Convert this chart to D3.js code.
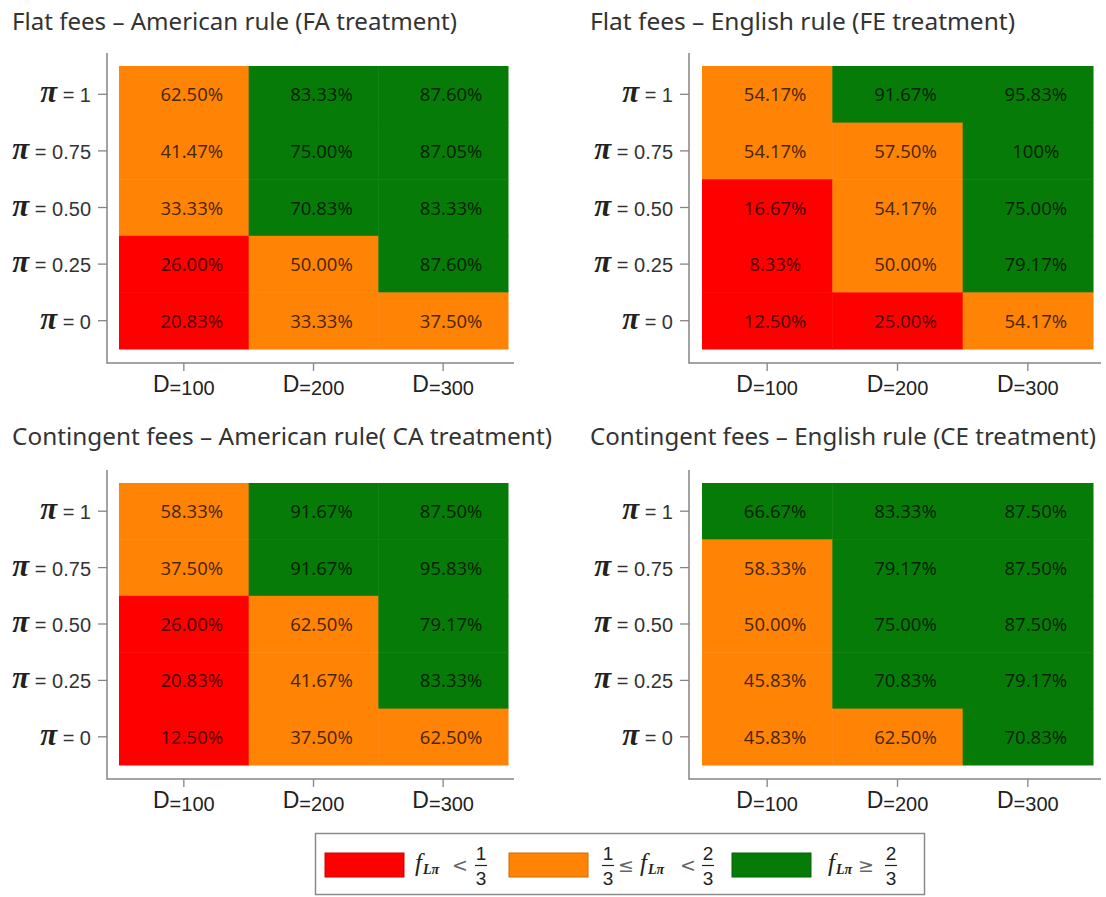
<!DOCTYPE html>
<html>
<head>
<meta charset="utf-8">
<script src="https://cdn.jsdelivr.net/npm/d3@7"></script>
<style>
  body { margin: 0; background: #fff; }
  svg { display: block; }
</style>
</head>
<body>
<div id="chart"></div>
<script>
// rows: pi = 1, 0.75, 0.50, 0.25, 0 ; columns: D = 100, 200, 300
const piLabels = ["1", "0.75", "0.50", "0.25", "0"];
const dLabels = ["100", "200", "300"];

const faValues = [
  [62.50, 83.33, 87.60],
  [41.47, 75.00, 87.05],
  [33.33, 70.83, 83.33],
  [26.00, 50.00, 87.60],
  [20.83, 33.33, 37.50]
];
const feValues = [
  [54.17, 91.67, 95.83],
  [54.17, 57.50, 100],
  [16.67, 54.17, 75.00],
  [8.33, 50.00, 79.17],
  [12.50, 25.00, 54.17]
];
const caValues = [
  [58.33, 91.67, 87.50],
  [37.50, 91.67, 95.83],
  [26.00, 62.50, 79.17],
  [20.83, 41.67, 83.33],
  [12.50, 37.50, 62.50]
];
const ceValues = [
  [66.67, 83.33, 87.50],
  [58.33, 79.17, 87.50],
  [50.00, 75.00, 87.50],
  [45.83, 70.83, 79.17],
  [45.83, 62.50, 70.83]
];

const titles = [
  "Flat fees \u2013 American rule (FA treatment)",
  "Flat fees \u2013 English rule (FE treatment)",
  "Contingent fees \u2013 American rule( CA treatment)",
  "Contingent fees \u2013 English rule (CE treatment)"
];

// share thresholds (1/3, 2/3) and their colours
const bandBreaks = [33.33, 66.67];
const bandColors = ["#fe0000", "#ff8406", "#077b07"];

const W = 1106, H = 897;

const svg = d3
  .select("#chart")
  .append("svg")
  .attr("width", W)
  .attr("height", H);

// panel geometry
const cols = [
  { titleX: 12, axisX: 107, x0: 119, x1: 508, axisEnd: 514 },
  { titleX: 590, axisX: 689, x0: 702, x1: 1093, axisEnd: 1101 }
];
const rows = [
  { titleY: 30, axisTop: 53, y0: 66, y1: 349, axisY: 363 },
  { titleY: 445, axisTop: 470, y0: 483, y1: 765, axisY: 779 }
];

const panels = [
  { title: titles[0], values: faValues, col: 0, row: 0, titleW: 445 },
  { title: titles[1], values: feValues, col: 1, row: 0, titleW: 425 },
  { title: titles[2], values: caValues, col: 0, row: 1, titleW: 540 },
  { title: titles[3], values: ceValues, col: 1, row: 1, titleW: 506 }
];

const color = d3.scaleThreshold().domain(bandBreaks).range(bandColors);
const fmt = (v) => (v === 100 ? "100%" : d3.format(".2f")(v) + "%");
const axisColor = "#858585";

panels.forEach((p) => {
  const c = cols[p.col];
  const r = rows[p.row];
  const g = svg.append("g");

  const x = d3.scaleBand().domain(dLabels).range([c.x0, c.x1]);
  const y = d3.scaleBand().domain(piLabels).range([r.y0, r.y1]);

  // title
  g.append("text")
    .attr("x", c.titleX)
    .attr("y", r.titleY)
    .attr("textLength", p.titleW)
    .attr("lengthAdjust", "spacingAndGlyphs")
    .style("font-family", "'Noto Sans', sans-serif")
    .style("font-size", "24px")
    .style("fill", "#333")
    .text(p.title);

  const cells = p.values.flatMap((rowVals, i) =>
    rowVals.map((v, j) => ({ pi: piLabels[i], d: dLabels[j], v }))
  );

  g.selectAll(".cell")
    .data(cells)
    .join("rect")
    .attr("class", "cell")
    .attr("x", (d) => x(d.d))
    .attr("y", (d) => y(d.pi))
    .attr("width", x.bandwidth() + 0.5)
    .attr("height", y.bandwidth() + 0.5)
    .attr("fill", (d) => color(d.v));

  g.selectAll(".val")
    .data(cells)
    .join("text")
    .attr("class", "val")
    .attr("x", (d) => x(d.d) + x.bandwidth() / 2 + 8)
    .attr("y", (d) => y(d.pi) + y.bandwidth() / 2 + 7)
    .attr("text-anchor", "middle")
    .style("font-family", "'Noto Sans', sans-serif")
    .style("font-size", "18.5px")
    .style("fill", "#000")
    .style("fill-opacity", 0.72)
    .text((d) => fmt(d.v));

  // axis lines
  g.append("path")
    .attr("d", `M${c.axisX},${r.axisTop}V${r.axisY}H${c.axisEnd}`)
    .attr("fill", "none")
    .attr("stroke", axisColor)
    .attr("stroke-width", 1.5);

  // y axis
  const ga = g
    .append("g")
    .attr("transform", `translate(${c.axisX},0)`)
    .call(d3.axisLeft(y).tickSize(9).tickPadding(7));
  ga.attr("font-family", null).attr("font-size", null);
  ga.select(".domain").remove();
  ga.selectAll(".tick line").attr("stroke", axisColor).attr("stroke-width", 1.3);
  ga.selectAll(".tick text").each(function (d) {
    const t = d3.select(this).text(null).attr("dy", null).attr("y", 8).attr("fill", "#222");
    t.append("tspan")
      .style("font-family", "'Liberation Serif', serif")
      .style("font-weight", "bold")
      .style("font-style", "italic")
      .style("font-size", "31px")
      .text("\u03c0");
    t.append("tspan")
      .style("font-family", "'Liberation Sans', Arial, sans-serif")
      .style("font-size", "20px")
      .style("fill", "#333")
      .text(" = " + d);
  });

  // x axis
  const gx = g
    .append("g")
    .attr("transform", `translate(0,${r.axisY})`)
    .call(d3.axisBottom(x).tickSize(8).tickPadding(0));
  gx.attr("font-family", null).attr("font-size", null);
  gx.select(".domain").remove();
  gx.selectAll(".tick line").attr("stroke", axisColor).attr("stroke-width", 1.3);
  gx.selectAll(".tick text").each(function (d) {
    const t = d3.select(this).text(null).attr("dy", null).attr("y", 29).attr("fill", "#222")
      .style("font-family", "'Liberation Sans', Arial, sans-serif");
    t.append("tspan").style("font-size", "23px").text("D");
    t.append("tspan").style("font-size", "20px").attr("dy", 3).text("=" + d);
  });
});

// legend
const legend = svg.append("g");
legend.append("rect")
  .attr("x", 315.5).attr("y", 833.5)
  .attr("width", 609).attr("height", 61)
  .attr("fill", "#fff")
  .attr("stroke", "#8a8a8a")
  .attr("stroke-width", 1.5);

const swatchX = [325, 509, 732];
legend.selectAll(".swatch")
  .data(bandColors)
  .join("rect")
  .attr("class", "swatch")
  .attr("x", (d, i) => swatchX[i])
  .attr("y", 853)
  .attr("width", 79)
  .attr("height", 24)
  .attr("fill", (d) => d)
  .attr("stroke", (d) => d3.color(d).darker(0.6))
  .attr("stroke-width", 1);

function fLpi(x0) {
  const t = legend.append("text")
    .attr("x", x0).attr("y", 871)
    .style("font-family", "'Liberation Serif', serif")
    .style("font-style", "italic")
    .style("fill", "#222");
  t.append("tspan").style("font-size", "25px").text("f");
  t.append("tspan").style("font-size", "14px").style("font-weight", "bold").attr("dx", 1).attr("dy", 3).text("L\u03c0");
}
function sym(x0, s) {
  legend.append("text")
    .attr("x", x0).attr("y", 872)
    .attr("text-anchor", "middle")
    .style("font-family", "'DejaVu Sans', sans-serif")
    .style("font-size", "19px")
    .style("fill", "#666")
    .text(s);
}
function frac(cx, num, den) {
  const f = legend.append("g").style("font-family", "'Liberation Sans', Arial, sans-serif")
    .style("font-size", "19px").style("fill", "#222");
  f.append("text").attr("x", cx).attr("y", 860).attr("text-anchor", "middle").text(num);
  f.append("line").attr("x1", cx - 6).attr("x2", cx + 6).attr("y1", 865.5).attr("y2", 865.5)
    .attr("stroke", "#222").attr("stroke-width", 1.2);
  f.append("text").attr("x", cx).attr("y", 885).attr("text-anchor", "middle").text(den);
}

fLpi(415); sym(460, "<"); frac(481, "1", "3");
frac(608, "1", "3"); sym(626, "\u2264"); fLpi(640); sym(688, "<"); frac(708, "2", "3");
fLpi(828); sym(866, "\u2265"); frac(891, "2", "3");
</script>
</body>
</html>
